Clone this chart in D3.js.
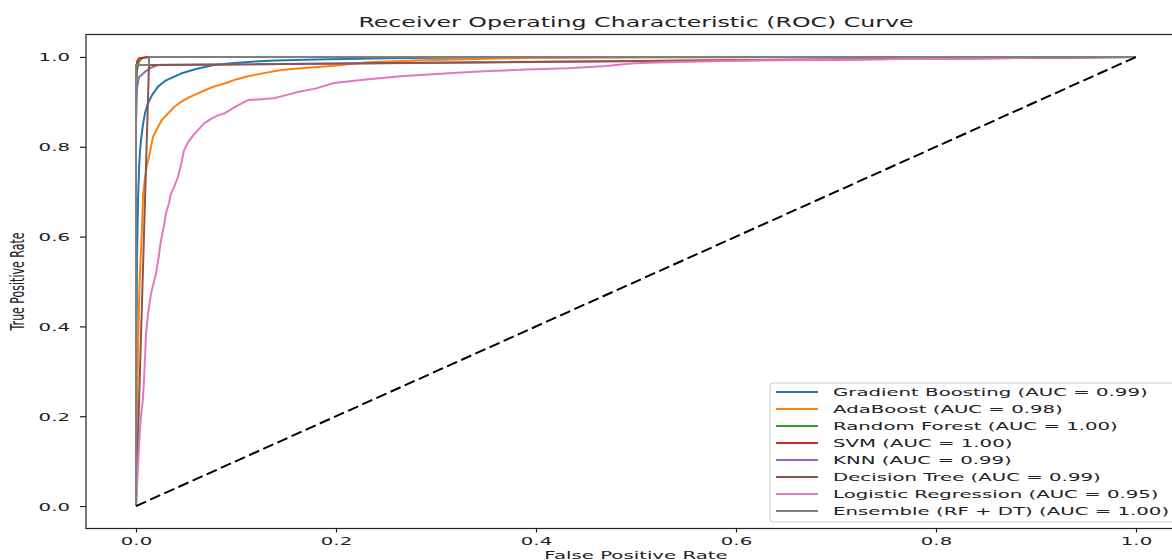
<!DOCTYPE html>
<html><head><meta charset="utf-8">
<script src="https://cdn.jsdelivr.net/npm/d3@7"></script>
<style>body{margin:0;background:#fff}svg{display:block}text{font-family:"DejaVu Sans",sans-serif;fill:#222}</style>
</head><body><svg id="c" width="1172" height="560"></svg>
<script>
// ---- data ----
const modelNames = ["Gradient Boosting","AdaBoost","Random Forest","SVM","KNN","Decision Tree","Logistic Regression","Ensemble (RF + DT)"];
const modelAUC = [0.99,0.98,1.00,1.00,0.99,0.99,0.95,1.00];

const gbFpr = [0,0.0005,0.001,0.002,0.003,0.004,0.005,0.007,0.009,0.012,0.016,0.022,0.03,0.045,0.06,0.078,0.095,0.112,0.14,0.17,0.195,0.25,0.3,0.4,0.5,1.0];
const gbTpr = [0,0.35,0.55,0.68,0.75,0.79,0.815,0.85,0.875,0.897,0.915,0.934,0.948,0.963,0.973,0.982,0.986,0.989,0.992,0.994,0.995,0.997,0.998,0.999,1.0,1.0];

const adaFpr = [0,0.001,0.002,0.003,0.004,0.005,0.006,0.007,0.009,0.011,0.013,0.015,0.017,0.02,0.022,0.026,0.032,0.038,0.045,0.053,0.062,0.07,0.078,0.09,0.1,0.112,0.128,0.145,0.165,0.195,0.232,0.28,0.332,0.4,0.5,1];
const adaTpr = [0,0.2,0.35,0.45,0.52,0.57,0.62,0.69,0.73,0.76,0.777,0.8,0.822,0.835,0.844,0.86,0.874,0.888,0.9,0.91,0.919,0.927,0.934,0.942,0.95,0.957,0.964,0.971,0.975,0.98,0.988,0.992,0.995,0.998,0.999,1.0];

const rfFpr = [0,0,0.001,0.003,0.006,0.012,1];
const rfTpr = [0,0.9,0.97,0.99,0.997,1,1];

const svmFpr = [0,0,0.001,0.003,0.012,1];
const svmTpr = [0,0.95,0.99,0.997,1,1];

const knnFpr = [0,0,0.001,0.003,0.008,0.014,0.022,1];
const knnTpr = [0,0.85,0.93,0.955,0.965,0.975,0.982,1];

const dtFpr = [0,0.013,1];
const dtTpr = [0,0.982,1];

const lrFpr = [0,0.001,0.002,0.003,0.004,0.005,0.006,0.007,0.008,0.009,0.01,0.012,0.015,0.018,0.02,0.023,0.025,0.028,0.03,0.033,0.035,0.038,0.042,0.045,0.048,0.052,0.057,0.062,0.068,0.075,0.082,0.088,0.1,0.112,0.125,0.138,0.15,0.162,0.18,0.198,0.23,0.265,0.3,0.348,0.39,0.432,0.47,0.498,0.53,0.565,0.62,0.7,0.8,0.9,1];
const lrTpr = [0,0.04,0.09,0.13,0.17,0.2,0.22,0.242,0.28,0.33,0.384,0.428,0.473,0.5,0.517,0.56,0.592,0.625,0.652,0.675,0.696,0.71,0.733,0.76,0.792,0.81,0.825,0.837,0.852,0.862,0.87,0.874,0.89,0.904,0.906,0.908,0.915,0.922,0.93,0.942,0.95,0.957,0.962,0.968,0.972,0.975,0.98,0.986,0.988,0.99,0.992,0.994,0.996,0.998,1];

const ensFpr = [0,0,0.013,0.013,1];
const ensTpr = [0,0.982,0.982,1,1];

const chanceFpr = [0,1];
const chanceTpr = [0,1];

const xTicks = [0,0.2,0.4,0.6,0.8,1.0];
const yTicks = [0,0.2,0.4,0.6,0.8,1.0];

const titleText = "Receiver Operating Characteristic (ROC) Curve";
const xLabel = "False Positive Rate";
const yLabel = "True Positive Rate";

// ---- styles ----
const colors = ["#1f77b4","#ff7f0e","#2ca02c","#d62728","#9467bd","#8c564b","#e377c2","#7f7f7f"];

const seriesF = [gbFpr,adaFpr,rfFpr,svmFpr,knnFpr,dtFpr,lrFpr,ensFpr];
const seriesT = [gbTpr,adaTpr,rfTpr,svmTpr,knnTpr,dtTpr,lrTpr,ensTpr];

const svg = d3.select("#c");
const x = d3.scaleLinear().domain([-0.05,1.05]).range([86,1186]);
const y = d3.scaleLinear().domain([-0.05,1.05]).range([528.5,34.5]);

// title: measure to derive horizontal stretch factor
const title = svg.append("text").attr("font-size",13.2).attr("text-anchor","middle").text(titleText);
const k = 555 / title.node().getComputedTextLength();
title.attr("transform",`translate(636,26.5) scale(${k},1)`);

const line = d3.line().x(d=>x(d[0])).y(d=>y(d[1]));
const g = svg.append("g");
seriesF.forEach((f,i)=>{
  const pts = f.map((v,j)=>[v,seriesT[i][j]]);
  g.append("path").attr("d",line(pts)).attr("fill","none").attr("stroke",colors[i])
   .attr("stroke-width",2).attr("stroke-linejoin","round");
});
g.append("path").attr("d",line(chanceFpr.map((v,j)=>[v,chanceTpr[j]])))
 .attr("fill","none").attr("stroke","#000").attr("stroke-width",2).attr("stroke-dasharray","11,4.5");

// spines
svg.append("rect").attr("x",x(-0.05)).attr("y",y(1.05)).attr("width",x(1.05)-x(-0.05)).attr("height",y(-0.05)-y(1.05))
  .attr("fill","none").attr("stroke","#222").attr("stroke-width",1.2);

// x axis
const xa = svg.append("g").attr("transform",`translate(0,${y(-0.05)})`)
  .call(d3.axisBottom(x).tickValues(xTicks).tickFormat(d3.format(".1f")).tickSize(4).tickSizeOuter(0));
xa.select(".domain").remove();
xa.selectAll(".tick line").attr("stroke","#222").attr("stroke-width",1.2);
xa.selectAll(".tick text").attr("y",0).attr("dy",0).attr("font-size",11).attr("font-family","DejaVu Sans").attr("fill","#222")
  .attr("transform",`translate(0,16.5) scale(${k},1)`);

// y axis
const ya = svg.append("g").attr("transform",`translate(${x(-0.05)},0)`)
  .call(d3.axisLeft(y).tickValues(yTicks).tickFormat(d3.format(".1f")).tickSize(6).tickSizeOuter(0));
ya.select(".domain").remove();
ya.selectAll(".tick line").attr("stroke","#222").attr("stroke-width",1.2);
ya.selectAll(".tick text").attr("x",0).attr("dy",0).attr("font-size",11).attr("font-family","DejaVu Sans").attr("fill","#222")
  .attr("transform",`translate(-16,4) scale(${k},1)`);

// axis labels
svg.append("text").attr("font-size",11).attr("text-anchor","middle").text(xLabel)
  .attr("transform",`translate(636,558.5) scale(${k},1)`);
svg.append("text").attr("font-size",11).attr("text-anchor","middle").text(yLabel)
  .attr("transform",`translate(24,281.5) rotate(-90) scale(1,${k})`);

// legend
const lg = svg.append("g");
lg.append("rect").attr("x",770).attr("y",383).attr("width",406).attr("height",139).attr("rx",3)
  .attr("fill","#fff").attr("fill-opacity",0.8).attr("stroke","#ccc").attr("stroke-width",1);
modelNames.forEach((n,i)=>{
  const cy = 392 + i*17;
  lg.append("line").attr("x1",776).attr("x2",818).attr("y1",cy).attr("y2",cy).attr("stroke",colors[i]).attr("stroke-width",2);
  lg.append("text").attr("font-size",11).text(`${n} (AUC = ${modelAUC[i].toFixed(2)})`)
    .attr("transform",`translate(833,${cy+4}) scale(${k},1)`);
});
</script></body></html>
